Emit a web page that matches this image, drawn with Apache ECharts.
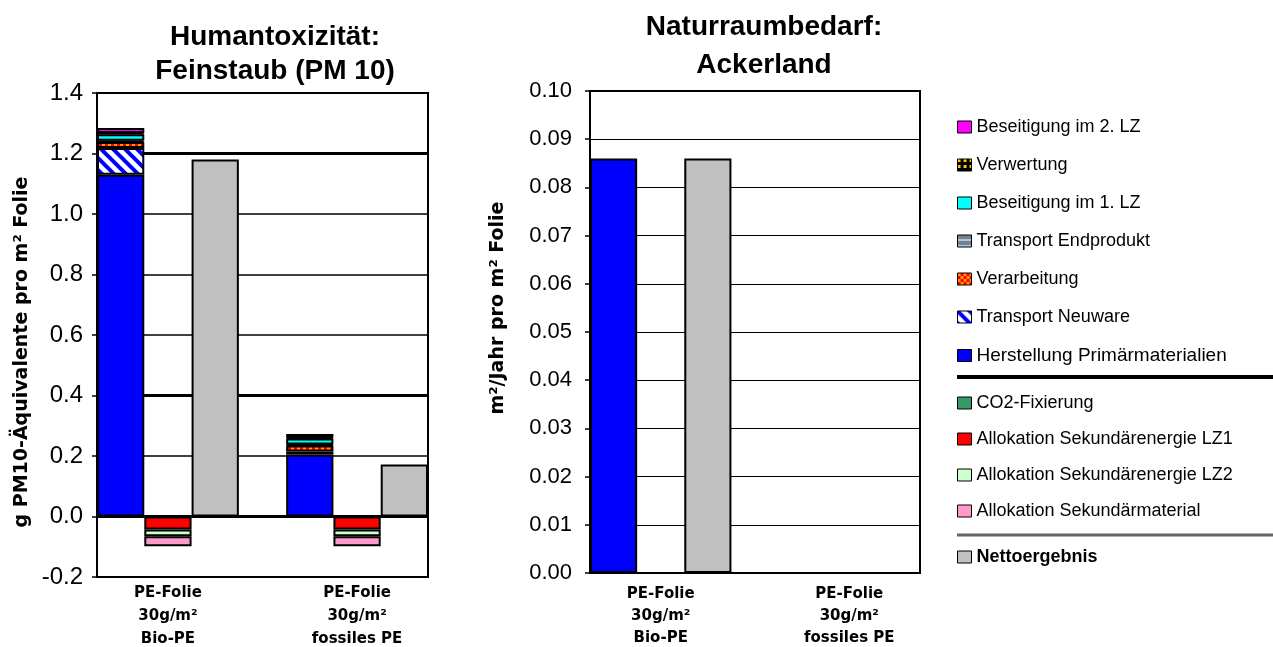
<!DOCTYPE html>
<html>
<head>
<meta charset="utf-8">
<script src="https://cdn.jsdelivr.net/npm/echarts@6/dist/echarts.min.js"></script>
<style>
    html, body { margin: 0; padding: 0; background: #fff; }
    #chart { width: 1273px; height: 647px; }
</style>
</head>
<body>
<div id="chart"></div>
<script>
// categories (the two films)
var categories = ['PE-Folie\n30g/m²\nBio-PE', 'PE-Folie\n30g/m²\nfossiles PE'];

// left chart: g PM10-Äquivalente pro m² Folie
var herstellungPM = [1.13, 0.205];
var transportNeuPM = [0.088, 0.01];
var verarbeitungPM = [0.02, 0.02];
var transportEndPM = [0.004, 0.003];
var beseitigung1PM = [0.022, 0.02];
var verwertungPM = [0.004, 0.003];
var beseitigung2PM = [0.016, 0.012];
var co2PM = [0, 0];
var allokLZ1PM = [-0.043, -0.043];
var allokLZ2PM = [-0.022, -0.022];
var allokMatPM = [-0.033, -0.033];
var nettoPM = [1.18, 0.172];

// right chart: m²/Jahr pro m² Folie
var herstellungAcker = [0.086, 0];
var transportNeuAcker = [0, 0];
var verarbeitungAcker = [0, 0];
var transportEndAcker = [0, 0];
var beseitigung1Acker = [0, 0];
var verwertungAcker = [0, 0];
var beseitigung2Acker = [0, 0];
var co2Acker = [0, 0];
var allokLZ1Acker = [0, 0];
var allokLZ2Acker = [0, 0];
var allokMatAcker = [0, 0];
var nettoAcker = [0.086, 0];

var font = '"Liberation Sans", Arial, sans-serif';
var wideFont = '"DejaVu Sans", sans-serif';

// each film gets 3 slots (burdens, credits, net) plus one empty slot in between
function toSlots(vals, offset) {
    var arr = [null, null, null, null, null, null, null];
    vals.forEach(function (v, i) {
        arr[i * 4 + offset] = v === 0 ? null : v;
    });
    return arr;
}
var slotLabels = ['', categories[0], '', '', '', categories[1], ''];

function pattern(w, draw) {
    var c = document.createElement('canvas');
    c.width = w; c.height = w;
    draw(c.getContext('2d'));
    return { image: c, repeat: 'repeat' };
}
var hatchBlue = pattern(12, function (g) {
    g.fillStyle = '#fff'; g.fillRect(0, 0, 12, 12);
    g.strokeStyle = '#0000ff'; g.lineWidth = 4;
    g.beginPath();
    g.moveTo(-3, -3); g.lineTo(15, 15);
    g.moveTo(-3, 9); g.lineTo(3, 15);
    g.moveTo(9, -3); g.lineTo(15, 3);
    g.stroke();
});
var checkerOrange = pattern(6, function (g) {
    g.fillStyle = '#ff0000'; g.fillRect(0, 0, 6, 6);
    g.fillStyle = '#ff9900'; g.fillRect(0, 0, 3, 3); g.fillRect(3, 3, 3, 3);
});
var grayBlue = pattern(6, function (g) {
    g.fillStyle = '#808080'; g.fillRect(0, 0, 6, 6);
    g.fillStyle = '#99ccff'; g.fillRect(0, 4, 6, 2);
});
var blackYellow = pattern(6, function (g) {
    g.fillStyle = '#000'; g.fillRect(0, 0, 6, 6);
    g.fillStyle = '#ffcc00'; g.fillRect(0, 0, 3, 3);
});

var defs = [
    ['Herstellung Primärmaterialien', '#0000ff', herstellungPM, herstellungAcker, 0],
    ['Transport Neuware', hatchBlue, transportNeuPM, transportNeuAcker, 0],
    ['Verarbeitung', checkerOrange, verarbeitungPM, verarbeitungAcker, 0],
    ['Transport Endprodukt', grayBlue, transportEndPM, transportEndAcker, 0],
    ['Beseitigung im 1. LZ', '#00ffff', beseitigung1PM, beseitigung1Acker, 0],
    ['Verwertung', blackYellow, verwertungPM, verwertungAcker, 0],
    ['Beseitigung im 2. LZ', '#ff00ff', beseitigung2PM, beseitigung2Acker, 0],
    ['CO2-Fixierung', '#339966', co2PM, co2Acker, 1],
    ['Allokation Sekundärenergie LZ1', '#ff0000', allokLZ1PM, allokLZ1Acker, 1],
    ['Allokation Sekundärenergie LZ2', '#ccffcc', allokLZ2PM, allokLZ2Acker, 1],
    ['Allokation Sekundärmaterial', '#ff99cc', allokMatPM, allokMatAcker, 1],
    ['Nettoergebnis', '#c0c0c0', nettoPM, nettoAcker, 2]
];

var series = [];
defs.forEach(function (d) {
    [0, 1].forEach(function (k) {
        series.push({
            name: d[0],
            type: 'bar',
            xAxisIndex: k,
            yAxisIndex: k,
            stack: k === 0 ? 'L' : 'R',
            barCategoryGap: '0%',
            z: 3,
            itemStyle: { color: d[1], borderColor: '#000', borderWidth: 2 },
            data: toSlots(k === 0 ? d[2] : d[3], d[4])
        });
    });
});

// thick reference lines behind the bars of the left chart
series.push({
    type: 'line',
    xAxisIndex: 0,
    yAxisIndex: 0,
    z: 1,
    data: [null, null, null, null, null, null, null],
    markLine: {
        silent: true,
        z: 1,
        symbol: ['none', 'none'],
        label: { show: false },
        lineStyle: { color: '#000', width: 3, type: 'solid' },
        data: [{ yAxis: 1.2 }, { yAxis: 0.4 }, { yAxis: 0 }]
    }
});

function xAxisOpt(idx, margin, lh) {
    return {
        type: 'category',
        gridIndex: idx,
        data: slotLabels,
        axisLine: { show: false },
        axisTick: { show: false },
        axisLabel: {
            interval: 0, margin: margin, color: '#000',
            fontFamily: wideFont, fontWeight: 'bold', fontSize: 15, lineHeight: lh
        }
    };
}

var legendCommon = {
    orient: 'vertical',
    left: 952,
    itemWidth: 14,
    itemHeight: 12,
    icon: 'rect',
    selectedMode: false,
    itemStyle: { borderColor: '#000', borderWidth: 1 },
    textStyle: { color: '#000', fontFamily: font, fontSize: 18, lineHeight: 18 }
};

var option = {
    animation: false,
    backgroundColor: '#fff',
    title: [
        {
            text: 'Humantoxizität:\nFeinstaub (PM 10)',
            left: 270, top: 15, textAlign: 'center',
            textStyle: { fontFamily: font, fontSize: 28, fontWeight: 'bold', lineHeight: 34, color: '#000' }
        },
        {
            text: 'Naturraumbedarf:\nAckerland',
            left: 759, top: 3, textAlign: 'center',
            textStyle: { fontFamily: font, fontSize: 28, fontWeight: 'bold', lineHeight: 38, color: '#000' }
        }
    ],
    legend: [
        Object.assign({}, legendCommon, {
            top: 113, itemGap: 20,
            data: ['Beseitigung im 2. LZ', 'Verwertung', 'Beseitigung im 1. LZ', 'Transport Endprodukt',
                'Verarbeitung', 'Transport Neuware',
                { name: 'Herstellung Primärmaterialien', textStyle: { fontSize: 19 } }]
        }),
        Object.assign({}, legendCommon, {
            top: 389, itemGap: 18,
            data: ['CO2-Fixierung', 'Allokation Sekundärenergie LZ1', 'Allokation Sekundärenergie LZ2', 'Allokation Sekundärmaterial']
        }),
        Object.assign({}, legendCommon, {
            top: 543,
            data: [{ name: 'Nettoergebnis', textStyle: { fontWeight: 'bold' } }]
        })
    ],
    graphic: [
        { type: 'line', shape: { x1: 957, y1: 377, x2: 1273, y2: 377 }, style: { stroke: '#000', lineWidth: 4 } },
        { type: 'line', shape: { x1: 957, y1: 535, x2: 1273, y2: 535 }, style: { stroke: '#666', lineWidth: 3 } }
    ],
    grid: [
        { left: 97, top: 93, width: 331, height: 484, show: true, borderColor: '#000', borderWidth: 2, outerBoundsMode: 'none', containLabel: false },
        { left: 590, top: 91, width: 330, height: 482, show: true, borderColor: '#000', borderWidth: 2, outerBoundsMode: 'none', containLabel: false }
    ],
    xAxis: [xAxisOpt(0, 5, 23), xAxisOpt(1, 10, 22)],
    yAxis: [
        {
            type: 'value', gridIndex: 0, min: -0.2, max: 1.4, interval: 0.2,
            name: 'g PM10-Äquivalente pro m² Folie',
            nameLocation: 'middle', nameGap: 65, nameRotate: 90,
            nameTextStyle: { color: '#000', fontFamily: wideFont, fontSize: 19, fontWeight: 'bold', padding: [0, 34, 0, 0] },
            axisLine: { show: true, lineStyle: { color: '#000', width: 2 } },
            axisTick: { show: true, length: 5, lineStyle: { color: '#000', width: 1.5 } },
            axisLabel: {
                color: '#000', fontFamily: font, fontSize: 24, margin: 14,
                formatter: function (v) { return v.toFixed(1); }
            },
            splitLine: { show: true, lineStyle: { color: '#000', width: 1.5 } }
        },
        {
            type: 'value', gridIndex: 1, min: 0, max: 0.1, interval: 0.01,
            name: 'm²/Jahr pro m² Folie',
            nameLocation: 'middle', nameGap: 82, nameRotate: 90,
            nameTextStyle: { color: '#000', fontFamily: wideFont, fontSize: 19, fontWeight: 'bold', padding: [0, 0, 0, 48] },
            axisLine: { show: true, lineStyle: { color: '#000', width: 2 } },
            axisTick: { show: true, length: 5, lineStyle: { color: '#000', width: 1.5 } },
            axisLabel: {
                color: '#000', fontFamily: font, fontSize: 22, margin: 18,
                formatter: function (v) { return v.toFixed(2); }
            },
            splitLine: { show: true, lineStyle: { color: '#000', width: 1 } }
        }
    ],
    series: series
};

var chart = echarts.init(document.getElementById('chart'));
chart.setOption(option);
</script>
</body>
</html>
